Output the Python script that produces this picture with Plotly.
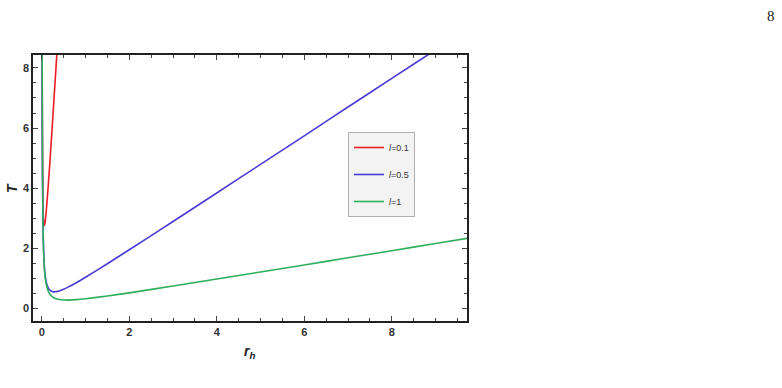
import plotly.graph_objects as go

# Data
r_vals = [0.009, 0.012, 0.015, 0.02, 0.03, 0.04, 0.05, 0.06, 0.07, 0.08, 0.1, 0.15,
          0.2, 0.25, 0.3, 0.35, 0.4]
T_red = [9.06, 6.92, 5.67, 4.46, 3.37, 2.945, 2.786, 2.759, 2.808, 2.905, 3.18, 4.11,
         5.17, 6.29, 7.43, 8.58, 9.75]

r_main = [0.009, 0.012, 0.015, 0.02, 0.03, 0.04, 0.06, 0.08, 0.1, 0.15, 0.2, 0.25,
          0.3, 0.4, 0.5, 0.6, 0.8, 1.0, 1.5, 2, 3, 4, 5, 6, 7, 8, 9, 9.8]
T_blue = [8.85, 6.64, 5.32, 4.00, 2.68, 2.03, 1.38, 1.07, 0.89, 0.674, 0.589, 0.557,
          0.551, 0.581, 0.636, 0.706, 0.863, 1.035, 1.485, 1.95, 2.89, 3.84, 4.79,
          5.74, 6.70, 7.65, 8.60, 9.37]
T_green = [8.85, 6.64, 5.31, 3.985, 2.66, 2.00, 1.34, 1.014, 0.82, 0.567, 0.446, 0.378,
           0.337, 0.294, 0.278, 0.276, 0.29, 0.318, 0.411, 0.517, 0.743, 0.975, 1.21,
           1.445, 1.682, 1.92, 2.157, 2.347]

labels = ["<i>l</i>=0.1", "<i>l</i>=0.5", "<i>l</i>=1"]
colors = ["#ec1c24", "#4a3bd6", "#2fae5c"]

x_ticks = [0, 2, 4, 6, 8]
y_ticks = [0, 2, 4, 6, 8]

W, H = 782, 388
ML, MR, MT, MB = 33, 315, 55, 67
PW, PH = W - ML - MR, H - MT - MB


def px2paper(px, py):
    return (px - ML) / PW, (H - MB - py) / PH


fig = go.Figure()
series = [(r_vals, T_red), (r_main, T_blue), (r_main, T_green)]
for i, ((xs, ys), lab, col) in enumerate(zip(series, labels, colors)):
    fig.add_trace(go.Scatter(x=xs, y=ys, mode="lines", name=lab, legendgroup=str(i),
                             line=dict(color=col, width=1.6, shape="spline", smoothing=0.6)))

axis_common = dict(
    showgrid=False, zeroline=False, showline=True, linecolor="#222", linewidth=1.6,
    mirror="ticks", ticks="inside", ticklen=5, tickwidth=1, tickcolor="#444",
    tickfont=dict(family="Liberation Sans, Arial", size=11, color="#333", weight="bold"),
    minor=dict(dtick=0.5, ticks="inside", ticklen=3, tickwidth=1, tickcolor="#444"),
)

ax_x, ax_y = px2paper(249, 352)
ay_x, ay_y = px2paper(12, 188)
pn_x, pn_y = px2paper(771, 16)

fig.update_layout(
    width=W, height=H,
    margin=dict(l=ML, r=MR, t=MT, b=MB, autoexpand=False),
    paper_bgcolor="white", plot_bgcolor="white",
    showlegend=True,
    legend=dict(x=348 / W, y=1 - 132 / H, xref="container", yref="container",
                xanchor="left", yanchor="top",
                bgcolor="#f3f3f3", bordercolor="#b0b0b0", borderwidth=1,
                font=dict(family="Liberation Sans, Arial", size=9, color="#333"),
                tracegroupgap=8, itemwidth=30),
    xaxis=dict(range=[-0.2, 9.72], tickvals=x_ticks, ticktext=[str(v) for v in x_ticks],
               **axis_common),
    yaxis=dict(range=[-0.42, 8.43], tickvals=y_ticks, ticktext=[str(v) for v in y_ticks],
               **axis_common),
    annotations=[
        dict(text="<b><i>r</i></b><sub><b><i>h</i></b></sub>", x=ax_x, y=ax_y,
             xref="paper", yref="paper", xanchor="center", yanchor="middle",
             showarrow=False,
             font=dict(family="Liberation Sans, Arial", size=14, color="#222")),
        dict(text="<b><i>T</i></b>", x=ay_x, y=ay_y, xref="paper", yref="paper",
             xanchor="center", yanchor="middle",
             textangle=-90, showarrow=False,
             font=dict(family="Liberation Sans, Arial", size=14, color="#222")),
        dict(text="8", x=pn_x, y=pn_y, xref="paper", yref="paper",
             xanchor="center", yanchor="middle", showarrow=False,
             font=dict(family="Liberation Serif, DejaVu Serif", size=15, color="#222")),
    ],
)

fig.write_html("out.html")
